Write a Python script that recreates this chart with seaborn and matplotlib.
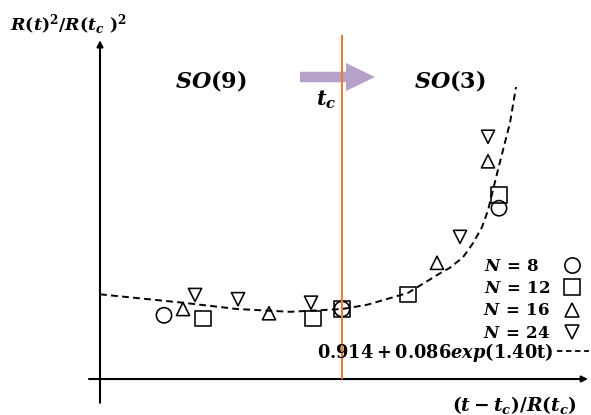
import numpy as np
import pandas as pd
import matplotlib
matplotlib.use("Agg")
import matplotlib.pyplot as plt
import seaborn as sns
from matplotlib.lines import Line2D

# measured points, x = (t - tc)/R(tc), y = R(t)^2/R(tc)^2 (arbitrary scale of the sketch)
n8_x = [-1.78, 0.00, 1.57]
n8_y = [0.91, 1.00, 2.44]
n12_x = [-1.39, -0.29, 0.00, 0.66, 1.57]
n12_y = [0.86, 0.86, 1.00, 1.21, 2.63]
n16_x = [-1.59, -0.73, 0.95, 1.46]
n16_y = [1.00, 0.94, 1.66, 3.11]
n24_x = [-1.47, -1.04, -0.31, 1.18, 1.46]
n24_y = [1.20, 1.14, 1.09, 2.03, 3.46]

# fitted curve
fit_x = [-2.42, -1.59, -1.05, -0.52, 0.00, 0.25, 0.66, 0.98, 1.08, 1.21,
         1.31, 1.40, 1.46, 1.51, 1.56, 1.61, 1.68, 1.74]
fit_y = [1.21, 1.09, 1.00, 0.96, 1.00, 1.06, 1.23, 1.51, 1.59, 1.74,
         1.94, 2.17, 2.41, 2.70, 2.99, 3.27, 3.66, 4.17]

tc = 0.0
sizes_N = [8, 12, 16, 24]
labels_N = [r"$N\,=\,8$", r"$N\,=\,12$", r"$N\,=\,16$", r"$N\,=\,24$"]
fit_label = r"$0.914+0.086exp(1.40\mathrm{t})$"

sns.set_style("white")
plt.rcParams["text.color"] = "black"
plt.rcParams["mathtext.fontset"] = "custom"
plt.rcParams["mathtext.rm"] = "DejaVu Serif:bold"
plt.rcParams["mathtext.it"] = "DejaVu Serif:italic:bold"
plt.rcParams["mathtext.bf"] = "DejaVu Serif:bold"

df = pd.concat([
    pd.DataFrame({"x": n8_x, "y": n8_y, "N": 8}),
    pd.DataFrame({"x": n12_x, "y": n12_y, "N": 12}),
    pd.DataFrame({"x": n16_x, "y": n16_y, "N": 16}),
    pd.DataFrame({"x": n24_x, "y": n24_y, "N": 24}),
])

markers = {8: "o", 12: "s", 16: "^", 24: "v"}
msizes = {8: 11, 12: 11, 16: 9.5, 24: 9.5}

fig = plt.figure(figsize=(5.91, 4.15), dpi=100)
ax = fig.add_axes([0, 0, 1, 1])
ax.set_xlim(-3.42, 2.49)
ax.set_ylim(-0.514, 5.414)
ax.axis("off")

# axes drawn as arrows
arrow_kw = dict(arrowstyle="-|>", color="black", lw=1.5, mutation_scale=9,
                shrinkA=0, shrinkB=0)
ax.annotate("", xy=(2.46, 0), xytext=(-2.53, 0), arrowprops=arrow_kw)
ax.annotate("", xy=(-2.42, 4.84), xytext=(-2.42, -0.34), arrowprops=arrow_kw)

sns.lineplot(x=fit_x, y=fit_y, ax=ax, color="black", lw=1.4,
             linestyle=(0, (3.5, 2.2)), zorder=3)

sns.scatterplot(data=df, x="x", y="y", style="N", markers=markers,
                size="N", sizes={k: v ** 2 for k, v in msizes.items()},
                facecolor="none", edgecolor="black", linewidth=1.15,
                legend=False, ax=ax, zorder=4)

ax.vlines(tc, 0, 4.91, color="#ed7d31", lw=1.5, zorder=5)
ax.arrow(-0.42, 4.314, 0.75, 0, width=0.15, head_width=0.40,
         head_length=0.29, length_includes_head=True, color="#b4a2c8",
         lw=0, zorder=2)

fig.text(0.017, 0.94, r"$R(t)^2/R(t_c\ )^2$", fontsize=12.5, ha="left", va="center")
fig.text(0.357, 0.805, r"$SO(9)$", fontsize=16, ha="center", va="center")
fig.text(0.761, 0.805, r"$SO(3)$", fontsize=16, ha="center", va="center")
fig.text(0.552, 0.759, r"$t_c$", fontsize=15, ha="center", va="center")
fig.text(0.871, 0.024, r"$(t-t_c)/R(t_c)$", fontsize=13.5, ha="center", va="center")

handles = [Line2D([], [], marker=markers[n], markersize=msizes[n], mfc="none",
                  mec="black", mew=1.15, ls="none") for n in sizes_N]
leg1 = ax.legend(handles, labels_N, markerfirst=False, frameon=False,
                 loc="upper right", bbox_to_anchor=(580 / 591, 1 - 257 / 415),
                 bbox_transform=fig.transFigure, fontsize=12, handlelength=1.0,
                 handletextpad=0.8, labelspacing=0.25, borderpad=0,
                 borderaxespad=0)
# left-align the single-digit label like the others (shift it by one digit)
leg1._legend_handle_box.get_children()[0].get_children()[0].sep += 8
ax.add_artist(leg1)
fit_handle = Line2D([], [], color="black", lw=1.3, ls=(0, (3, 2)))
ax.legend([fit_handle], [fit_label], markerfirst=False, frameon=False,
          loc="center right", bbox_to_anchor=(589 / 591, 1 - 352 / 415),
          bbox_transform=fig.transFigure, fontsize=12.8, handlelength=1.8,
          handletextpad=0.2, borderpad=0, borderaxespad=0)

fig.savefig("out.png", dpi=100)
